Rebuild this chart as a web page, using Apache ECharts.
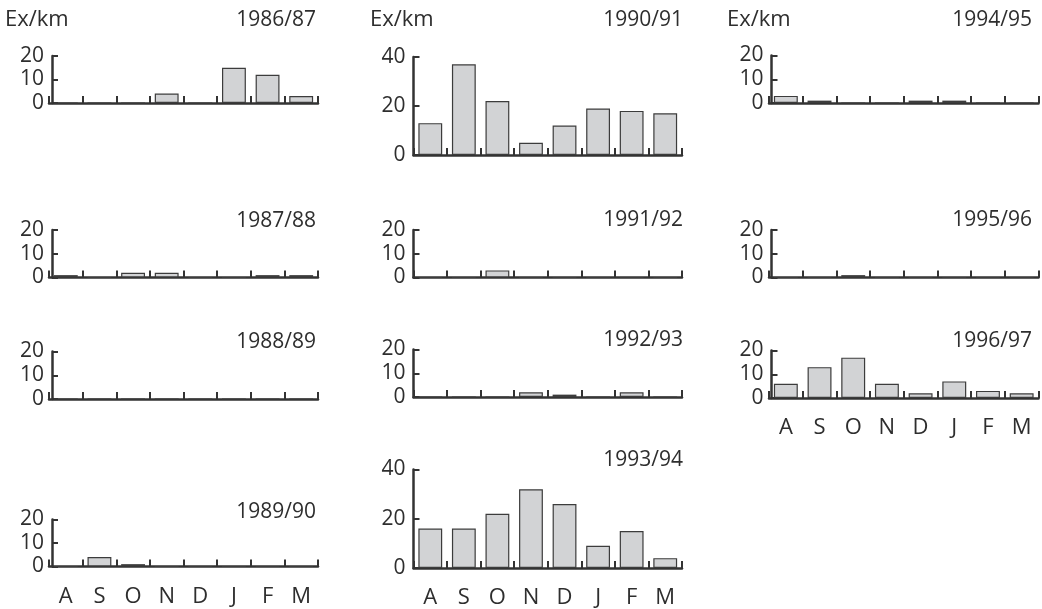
<!DOCTYPE html>
<html>
<head>
<meta charset="utf-8">
<script src="https://cdn.jsdelivr.net/npm/echarts@6/dist/echarts.min.js"></script>
<style>
html,body{margin:0;padding:0;background:#fff;}
#chart{width:1042px;height:609px;}
</style>
</head>
<body>
<div id="chart"></div>
<script>
// ---- data ----
const months = ['A','S','O','N','D','J','F','M'];
const seasons = ['1986/87','1987/88','1988/89','1989/90','1990/91','1991/92','1992/93','1993/94','1994/95','1995/96','1996/97'];
const v1986 = [0,0,0,4,0,15,12,3];
const v1987 = [1,0,2,2,0,0,1,1];
const v1988 = [0,0,0,0,0,0,0,0];
const v1989 = [0,4,1,0,0,0,0,0];
const v1990 = [13,37,22,5,12,19,18,17];
const v1991 = [0,0,3,0,0,0,0,0];
const v1992 = [0,0,0,2,1,0,2,0];
const v1993 = [16,16,22,32,26,9,15,4];
const v1994 = [3,1,0,0,1,1,0,0];
const v1995 = [0,0,1,0,0,0,0,0];
const v1996 = [6,13,17,6,2,7,3,2];
const values = [v1986,v1987,v1988,v1989,v1990,v1991,v1992,v1993,v1994,v1995,v1996];
const yMax = [20,20,20,20,40,20,20,40,20,20,20];
const yStep = [10,10,10,10,20,10,10,20,10,10,10];
const unitLabel = 'Ex/km';

// ---- layout ----
const cols = [
  {left:49, width:269, yOff:-3, titleX:316, unitX:5},
  {left:413.5, width:268.5, yOff:0, titleX:683, unitX:370},
  {left:769, width:269.5, yOff:-2.5, titleX:1032, unitX:727}
];
const panels = [
  {col:0, top:56,    h:47,   titleY:20},
  {col:0, top:230,   h:47.5, titleY:221.5},
  {col:0, top:351.5, h:47.5, titleY:342.5},
  {col:0, top:519.5, h:47,   titleY:512.5, months:true},
  {col:1, top:57,    h:98,   titleY:20},
  {col:1, top:230,   h:47.5, titleY:220.5},
  {col:1, top:349.5, h:47.5, titleY:340.5},
  {col:1, top:469.5, h:98.5, titleY:460, months:true},
  {col:2, top:55.5,  h:47.5, titleY:20},
  {col:2, top:230,   h:47.5, titleY:220.5},
  {col:2, top:350.5, h:47.5, titleY:341.5, months:true}
];

const FONT = '"Open Sans", "DejaVu Sans", sans-serif';
const TXT = '#2e2e2e';
const AX = '#333333';

const grid = [], xAxis = [], yAxis = [], series = [], graphic = [];
panels.forEach((p, i) => {
  const c = cols[p.col];
  grid.push({left:c.left, top:p.top, width:c.width, height:p.h, containLabel:false});
  xAxis.push({
    type:'category', gridIndex:i, data:months, boundaryGap:true,
    axisLine:{show:true, onZero:false, lineStyle:{color:AX, width:2.5}},
    axisTick:{show:true, inside:true, length:7, lineStyle:{color:AX, width:2}},
    axisLabel:{show:!!p.months, margin:19, color:TXT, fontSize:22, fontFamily:FONT},
    splitLine:{show:false}
  });
  yAxis.push({
    type:'value', gridIndex:i, min:0, max:yMax[i], interval:yStep[i], offset:c.yOff,
    axisLine:{show:true, lineStyle:{color:AX, width:2.5}},
    axisTick:{show:true, inside:true, length:6, lineStyle:{color:AX, width:2}},
    axisLabel:{show:true, margin:8, color:TXT, fontSize:21, fontFamily:FONT},
    splitLine:{show:false}
  });
  series.push({
    type:'bar', xAxisIndex:i, yAxisIndex:i, data:values[i],
    barCategoryGap:'29%',
    itemStyle:{color:'#d2d3d5', borderColor:'#3c3c3c', borderWidth:1.2},
    emphasis:{disabled:true}, animation:false
  });
  graphic.push({
    type:'text', x:c.titleX, y:p.titleY,
    style:{text:seasons[i], font:'21px ' + FONT, fill:TXT, align:'right', verticalAlign:'middle'}
  });
});
cols.forEach(c => {
  graphic.push({
    type:'text', x:c.unitX, y:20,
    style:{text:unitLabel, font:'22px ' + FONT, fill:TXT, align:'left', verticalAlign:'middle'}
  });
});

const chart = echarts.init(document.getElementById('chart'), null, {renderer:'canvas'});
chart.setOption({
  animation:false,
  backgroundColor:'#ffffff',
  grid, xAxis, yAxis, series, graphic
});
</script>
</body>
</html>
